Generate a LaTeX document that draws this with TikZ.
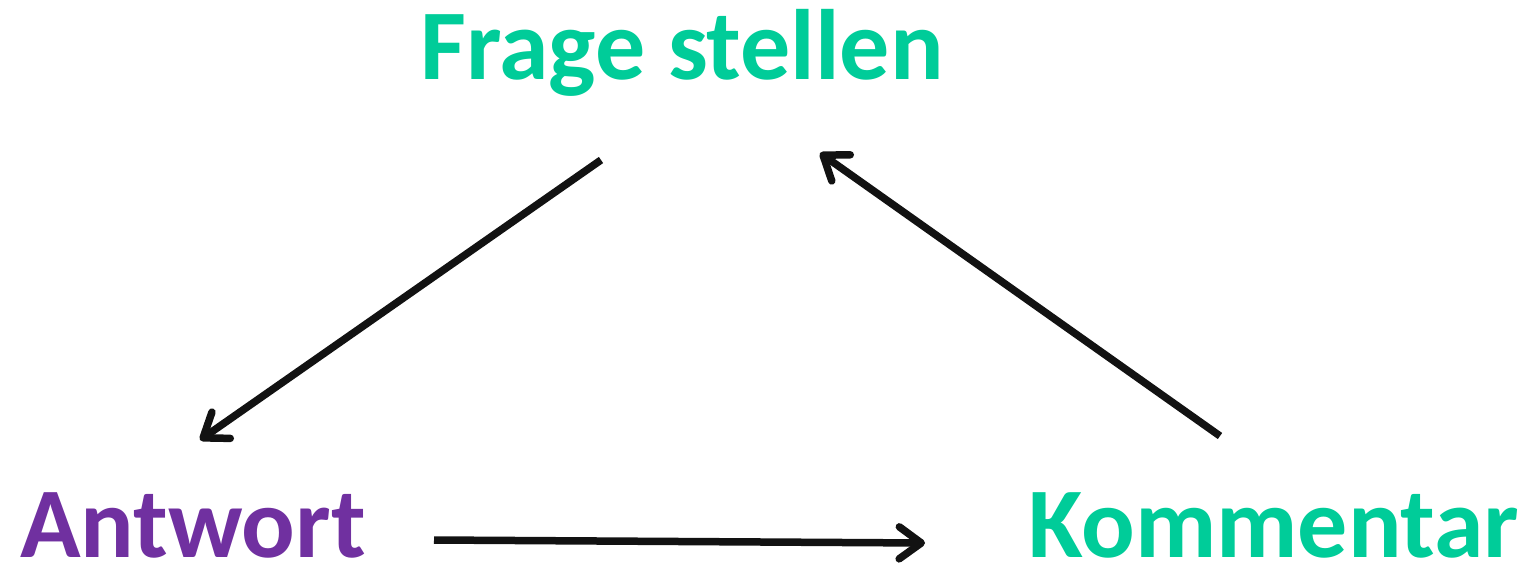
\documentclass[tikz,border=0pt]{standalone}
\usepackage{fontspec}
\setmainfont{Carlito}
\usetikzlibrary{arrows.meta}
\definecolor{cgreen}{HTML}{00CC99}
\definecolor{cpurple}{HTML}{7030A0}
\begin{document}
\begin{tikzpicture}[x=1pt,y=-1pt,
  lbl/.style={inner sep=0pt, anchor=base west, font=\fontsize{100}{110}\selectfont\bfseries},
  conn/.style={line width=7.5pt, color=black!93, line cap=butt,
    -{Straight Barb[length=22pt,width=32pt,round]}}]
\useasboundingbox (0,0) rectangle (1535,565);
\node[lbl, text=cgreen] (frage) at (420,79) {Frage stellen};
\node[lbl, text=cpurple] (antwort) at (20,557) {Antwort};
\node[lbl, text=cgreen] (komm) at (1028,557) {Kommentar};
\coordinate (s1) at (601,160);
\coordinate (e1) at (200,440);
\coordinate (s2) at (1220,436);
\coordinate (e2) at (820,153);
\coordinate (s3) at (434,540);
\coordinate (e3) at (925,543);
\draw[conn] (s1) -- (e1);
\draw[conn] (s2) -- (e2);
\draw[conn] (s3) -- (e3);
\end{tikzpicture}
\end{document}
